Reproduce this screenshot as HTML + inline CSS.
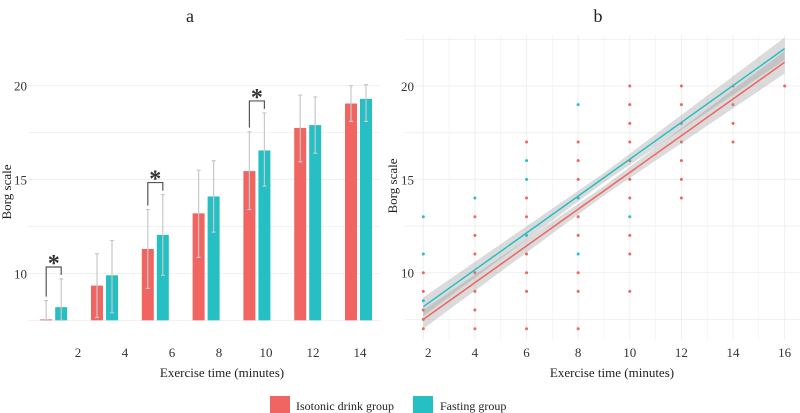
<!DOCTYPE html>
<html><head><meta charset="utf-8"><style>
body{margin:0;background:#fff}
svg,svg text{display:block;font-family:"Liberation Serif","DejaVu Serif",serif}
</style></head><body>
<svg id="c" width="800" height="413" viewBox="0 0 800 413" font-family="Liberation Serif, serif">
<text x="190" y="22" font-size="18" text-anchor="middle" fill="#222">a</text>
<text x="598" y="22" font-size="18" text-anchor="middle" fill="#222">b</text>
<g id="A"></g>
<g id="B"></g>
<g>
<rect x="270" y="396" width="20" height="17" fill="#F06561"/>
<text x="296" y="410" font-size="12" fill="#222">Isotonic drink group</text>
<rect x="413" y="396" width="20" height="17" fill="#26BFC4"/>
<text x="440" y="410" font-size="12" fill="#222">Fasting group</text>
</g>
</svg>
<script>
const NS="http://www.w3.org/2000/svg";
const RED="#F06561",TEAL="#26BFC4";
// Panel a data
const timesA=[2,4,6,8,10,12,14];
const redMean=[7.55,9.35,11.3,13.2,15.45,17.75,19.05];
const tealMean=[8.2,9.9,12.05,14.1,16.55,17.9,19.3];
const redLo=[7.5,7.65,9.2,10.85,13.4,15.95,18.1];
const redHi=[8.55,11.05,13.4,15.5,17.55,19.5,20];
const tealLo=[7.5,7.9,9.9,12.2,14.65,16.4,18.1];
const tealHi=[9.7,11.75,14.2,16.0,18.55,19.4,20.05];
const yTicksA=[10,15,20];
const sigGroups=[0,2,4];
// Panel b data
const scatterX=[2,2,2,2,2,4,4,4,4,4,4,4,6,6,6,6,6,6,6,8,8,8,8,8,8,8,8,10,10,10,10,10,10,10,10,10,10,12,12,12,12,12,12,12,14,14,14,14,16];
const scatterRed=[7,7.5,8,9,10,7,8,9,10,11,12,13,7,9,10,11,13,14,17,7,9,10,12,13,15,16,17,9,11,12,14,15,16,17,18,19,20,14,15,16,17,18,19,20,17,18,19,20,20];
const tealX=[2,2,2,4,6,6,6,8,8,8,10];
const tealY=[8.5,11,13,14,12,15,16,11,14,19,13];
const redFit=[7.5,21.27];
const tealFit=[8.18,22.0];
const fitX=[2,16];
const xTicksB=[2,4,6,8,10,12,14,16];
const yTicksB=[10,15,20];

function el(p,t,a,txt){const e=document.createElementNS(NS,t);for(const k in a)e.setAttribute(k,a[k]);if(txt!==undefined){e.textContent=txt;e.setAttribute('font-family','Liberation Serif, serif');}p.appendChild(e);return e;}
const yA=v=>85.7+(20-v)*18.77;
const A=document.getElementById('A');
[7.5,10,12.5,15,17.5,20].forEach(v=>{const g=el(A,'line',{x1:28,x2:380,y1:yA(v),y2:yA(v),stroke:'#eee','stroke-width':0.8});

});
yTicksA.forEach(v=>{const t=el(A,'text',{x:27,y:yA(v)+5,'font-size':13,'text-anchor':'end',fill:'#333'},v);

});
const gx=i=>53.7+i*50.8;
const lx=i=>78+i*47;
timesA.forEach((t,i)=>{
 const lab=el(A,'text',{x:lx(i),y:357,'font-size':13,'text-anchor':'middle',fill:'#333'},t);
 
 
 [[redMean,redLo,redHi,RED,-7.5,'red'],[tealMean,tealLo,tealHi,TEAL,7.5,'teal']].forEach(([m,lo,hi,c,off,n])=>{
  const cx=gx(i)+off;
  const r=el(A,'rect',{x:cx-6,y:yA(m[i]),width:12,height:yA(7.5)-yA(m[i]),fill:c});
  
  
  const e=el(A,'path',{d:`M${cx} ${yA(lo[i])}V${yA(hi[i])}M${cx-2} ${yA(lo[i])}h4M${cx-2} ${yA(hi[i])}h4`,stroke:'#c8c8c8','stroke-width':1.2,fill:'none'});
  
  
 });
});
sigGroups.forEach(i=>{
 const x1=gx(i)-7.5,x2=gx(i)+7.5;
 const top=yA(Math.max(redHi[i],tealHi[i]))-12;
 const b=el(A,'path',{d:`M${x1} ${yA(redHi[i])-4}V${top}H${x2}V${yA(tealHi[i])-4}`,stroke:'#555','stroke-width':1.2,fill:'none'});
 
 
 const s=el(A,'text',{x:(x1+x2)/2,y:top+4,'font-size':24,'font-weight':'bold','text-anchor':'middle',fill:'#333'},'*');
 
 
});
let t1=el(A,'text',{x:222,y:377,'font-size':13,'text-anchor':'middle',fill:'#222'},'Exercise time (minutes)');


let t2=el(A,'text',{x:0,y:0,'font-size':13,'text-anchor':'middle',fill:'#222',transform:'translate(11,192) rotate(-90)'},'Borg scale');



// Panel b
const B=document.getElementById('B');
const xB=v=>423.3+(v-2)*25.81;
const yB=v=>86+(20-v)*18.67;
for(let v=7.5;v<=22.5;v+=2.5){const g=el(B,'line',{x1:405,x2:800,y1:yB(v),y2:yB(v),stroke:'#eee','stroke-width':0.8});

}
for(let v=2;v<=16;v+=1){const g=el(B,'line',{x1:xB(v),x2:xB(v),y1:35,y2:340,stroke:'#eee','stroke-width':v%2?0.5:0.9});

}
yTicksB.forEach(v=>{const t=el(B,'text',{x:414,y:yB(v)+5,'font-size':13,'text-anchor':'end',fill:'#333'},v);

});
xTicksB.forEach(v=>{const t=el(B,'text',{x:xB(v)+(v===2?5:0),y:357,'font-size':13,'text-anchor':'middle',fill:'#333'},v);

});
scatterX.forEach((x,i)=>{const c=el(B,'circle',{cx:xB(x),cy:yB(scatterRed[i]),r:1.5,fill:RED});

});
tealX.forEach((x,i)=>{const c=el(B,'circle',{cx:xB(x),cy:yB(tealY[i]),r:1.5,fill:TEAL});

});
[[redFit,RED,'isotonic'],[tealFit,TEAL,'fasting']].forEach(([f,c,n])=>{
 const w0=0.5,wm=0.25,w1=0.6;
 const xm=(fitX[0]+fitX[1])/2, fm=(f[0]+f[1])/2;
 const band=el(B,'polygon',{points:`${xB(fitX[0])},${yB(f[0]+w0)} ${xB(xm)},${yB(fm+wm)} ${xB(fitX[1])},${yB(f[1]+w1)} ${xB(fitX[1])},${yB(f[1]-w1)} ${xB(xm)},${yB(fm-wm)} ${xB(fitX[0])},${yB(f[0]-w0)}`,fill:'#999','fill-opacity':0.35});
 
 
});
[[redFit,RED,'isotonic'],[tealFit,TEAL,'fasting']].forEach(([f,c,n])=>{
 const l=el(B,'line',{x1:xB(fitX[0]),y1:yB(f[0]),x2:xB(fitX[1]),y2:yB(f[1]),stroke:c,'stroke-width':1.5});
 
 
});
let t3=el(B,'text',{x:612,y:377,'font-size':13,'text-anchor':'middle',fill:'#222'},'Exercise time (minutes)');


let t4=el(B,'text',{x:0,y:0,'font-size':13,'text-anchor':'middle',fill:'#222',transform:'translate(397,186) rotate(-90)'},'Borg scale');


</script>
</body></html>
